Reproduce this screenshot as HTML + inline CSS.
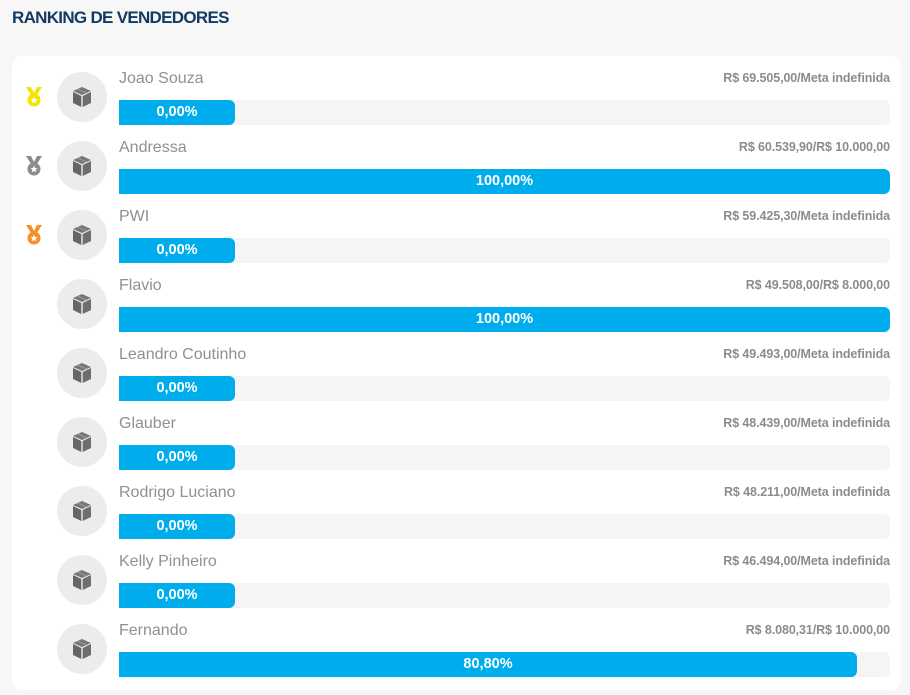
<!DOCTYPE html>
<html><head><meta charset="utf-8"><style>
*{margin:0;padding:0;box-sizing:border-box}
body{width:910px;height:695px;background:#f7f7f7;font-family:"Liberation Sans",sans-serif;position:relative;overflow:hidden}
h1{position:absolute;left:12px;top:8px;font-size:17px;font-weight:bold;color:#133a63;letter-spacing:-0.7px}
.card{position:absolute;left:12px;top:56px;width:889px;height:634px;background:#fff;border-radius:10px}
.row{position:absolute;left:0;width:910px;height:69px}
.av{position:absolute;left:57px;top:16px;width:50px;height:50px;border-radius:50%;background:#ececec}
.av svg{position:absolute;left:15px;top:14px}
.name{position:absolute;left:119px;top:14px;font-size:16px;color:#909090}
.val{position:absolute;right:20px;top:15px;font-size:12.5px;color:#8c8c8c;font-weight:bold;letter-spacing:-0.1px}
.track{position:absolute;left:119px;top:44px;width:771px;height:25px;background:#f5f5f5;border-radius:0 6px 6px 0}
.bar{position:absolute;left:0;top:0;height:25px;background:#00adec;border-radius:0 6px 6px 0;color:#fff;font-weight:bold;font-size:14.5px;text-align:center;line-height:25px}
.medal{position:absolute;left:24px;top:30px}
</style></head><body>
<h1>RANKING DE VENDEDORES</h1>
<div class="card"></div>
<div id="rows"></div>
<script>
var d=[["Joao Souza","R$ 69.505,00/Meta indefinida",0,"#f2e600"],["Andressa","R$ 60.539,90/R$ 10.000,00",100,"#8c8c8c"],["PWI","R$ 59.425,30/Meta indefinida",0,"#f5902a"],["Flavio","R$ 49.508,00/R$ 8.000,00",100],["Leandro Coutinho","R$ 49.493,00/Meta indefinida",0],["Glauber","R$ 48.439,00/Meta indefinida",0],["Rodrigo Luciano","R$ 48.211,00/Meta indefinida",0],["Kelly Pinheiro","R$ 46.494,00/Meta indefinida",0],["Fernando","R$ 8.080,31/R$ 10.000,00",80.8]];
var h="";
d.forEach(function(r,i){
var w=r[2]==0?116:(r[2]==100?771:738);
var lab=r[2].toFixed(2).replace(".",",")+"%";
h+='<div class="row" style="top:'+(56+i*69)+'px">';
if(r[3])h+='<svg class="medal" width="20" height="22" viewBox="0 0 20 22"><path d="M2 1 L7 1 L10 7 L13 1 L18 1 L13 9 L7 9 Z" fill="'+r[3]+'"/><circle cx="10" cy="14" r="6.5" fill="'+r[3]+'"/><polygon points="10,10.5 11,13 13.5,13.2 11.6,14.8 12.2,17.3 10,16 7.8,17.3 8.4,14.8 6.5,13.2 9,13" fill="#fff"/></svg>';
h+='<div class="av"><svg width="20" height="22" viewBox="0 0 20 22"><polygon points="10,1 19,5 10,9 1,5" fill="#777"/><polygon points="1,6 9.3,10 9.3,21 1,17" fill="#666"/><polygon points="19,6 10.7,10 10.7,21 19,17" fill="#6e6e6e"/><line x1="5.5" y1="3" x2="14.5" y2="7" stroke="#999" stroke-width="1"/></svg></div>';
h+='<div class="name">'+r[0]+'</div><div class="val">'+r[1]+'</div>';
h+='<div class="track"><div class="bar" style="width:'+w+'px">'+lab+'</div></div></div>';
});
document.getElementById("rows").innerHTML=h;
</script>
</body></html>
